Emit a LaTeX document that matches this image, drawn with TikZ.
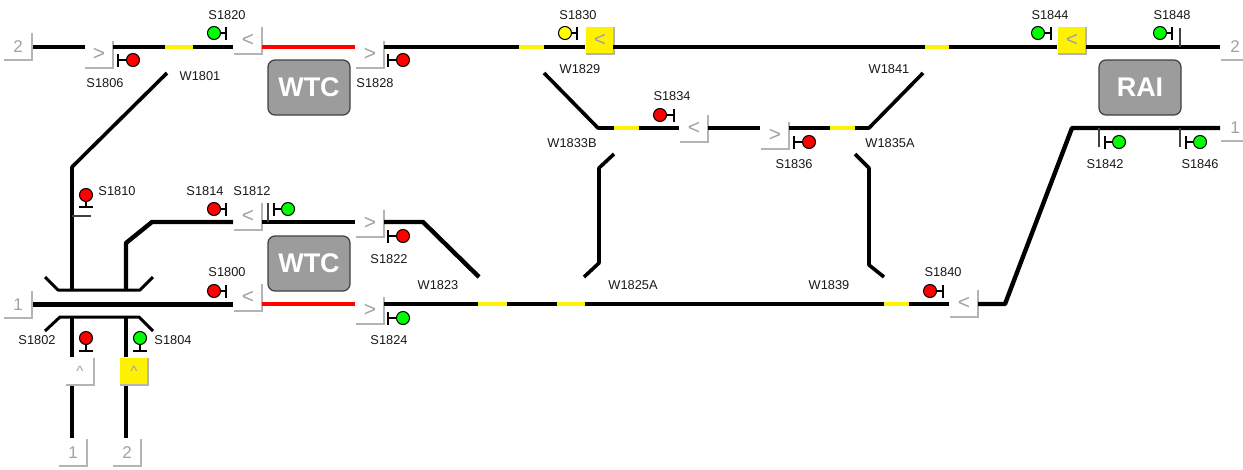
\documentclass[tikz,border=0pt]{standalone}
\usepackage{fontspec}
\setmainfont{Liberation Sans}
\definecolor{sigred}{HTML}{FF0000}
\definecolor{siggreen}{HTML}{00FF00}
\definecolor{sigyellow}{HTML}{FFFF00}
\definecolor{boxgrey}{HTML}{9C9C9C}
\definecolor{bevel}{HTML}{B4B4B4}
\definecolor{glyph}{HTML}{A0A0A8}
\tikzset{
  track/.style={line width=4.4pt,black,line cap=butt,line join=round},
  busy/.style={line width=4.4pt,red,line cap=butt},
  occ/.style={line width=4.4pt,yellow,line cap=butt},
  thintrack/.style={line width=3pt,black,line join=round},
  fine/.style={line width=1.1pt,black!75},
  bevelline/.style={line width=2pt,bevel},
  btnbox/.style={minimum width=28pt,minimum height=27pt,inner sep=0pt,outer sep=0pt,text=glyph},
  lamp/.style={circle,draw=black,line width=1pt,minimum size=13pt,inner sep=0pt,outer sep=0pt},
  sigpost/.style={line width=1.6pt,black},
  lbl/.style={font=\fontsize{12.8}{14}\selectfont,text=black!90,inner sep=0pt},
  station/.style={draw=black!75,line width=1.2pt,fill=boxgrey,rounded corners=7pt,minimum width=82pt,minimum height=55pt,inner sep=0pt,text=white,font=\bfseries\fontsize{27}{30}\selectfont},
}
% #1 name, #2 left, #3 top, #4 glyph, #5 fill
\newcommand{\btn}[5]{%
  \node[btnbox,fill=#5] (#1) at (#2+14,#3+13.5) {#4};
  \draw[bevelline] (#1.north east) -- (#1.south east) -- (#1.south west);
}
\newcommand{\chevron}[1]{\fontsize{21}{21}\selectfont\raisebox{-1pt}{#1}}
\newcommand{\numb}[1]{\fontsize{17}{17}\selectfont #1}
\newcommand{\caretmark}{\fontsize{15}{15}\selectfont\raisebox{0pt}{\^{}}}
% horizontal signal: #1 name, #2 x, #3 y, #4 colour, #5 bar x
\newcommand{\sigh}[5]{%
  \node[lamp,fill=#4] (#1) at (#2,#3) {};
  \coordinate (#1b) at (#5,#3);
  \draw[sigpost] (#1) -- (#1b);
  \draw[sigpost] ([yshift=-6.5pt]#1b) -- ([yshift=6.5pt]#1b);
}
% vertical signal: #1 name, #2 x, #3 y, #4 colour, #5 bar y
\newcommand{\sigv}[5]{%
  \node[lamp,fill=#4] (#1) at (#2,#3) {};
  \coordinate (#1b) at (#2,#5);
  \draw[sigpost] (#1) -- (#1b);
  \draw[sigpost] ([xshift=-7pt]#1b) -- ([xshift=7pt]#1b);
}
\begin{document}
\begin{tikzpicture}[x=1pt,y=-1pt]
\useasboundingbox[fill=white] (0,0) rectangle (1243,469);

% buttons
\btn{bTL}{4}{33}{\numb{2}}{white}
\btn{bA}{85}{41}{\chevron{>}}{white}
\btn{bB}{234}{27}{\chevron{<}}{white}
\btn{bC}{356}{41}{\chevron{>}}{white}
\btn{bD}{586}{27}{\chevron{<}}{yellow}
\btn{bE}{1058}{27}{\chevron{<}}{yellow}
\btn{bTR}{1221}{33}{\numb{2}}{white}
\btn{bMR}{1221}{114}{\numb{1}}{white}
\btn{bF}{680}{115}{\chevron{<}}{white}
\btn{bG}{761}{122}{\chevron{>}}{white}
\btn{bH}{234}{203}{\chevron{<}}{white}
\btn{bI}{356}{210}{\chevron{>}}{white}
\btn{bML}{4}{291}{\numb{1}}{white}
\btn{bJ}{234}{284}{\chevron{<}}{white}
\btn{bK}{356}{297}{\chevron{>}}{white}
\btn{bL}{950}{290}{\chevron{<}}{white}
\btn{bM}{66}{358}{\caretmark}{white}
\btn{bN}{120}{358}{\caretmark}{yellow}
\btn{bO}{59}{439}{\numb{1}}{white}
\btn{bP}{113}{439}{\numb{2}}{white}

% top line
\coordinate (t1) at (33,47);   \coordinate (t2) at (85,47);
\coordinate (t3) at (113,47);  \coordinate (t4) at (165,47);
\coordinate (t5) at (193,47);  \coordinate (t6) at (233,47);
\coordinate (t7) at (262,47);  \coordinate (t8) at (355,47);
\coordinate (t9) at (384,47);  \coordinate (t10) at (519,47);
\coordinate (t11) at (544,47); \coordinate (t12) at (585,47);
\coordinate (t13) at (613,47); \coordinate (t14) at (925,47);
\coordinate (t15) at (949,47); \coordinate (t16) at (1057,47);
\coordinate (t17) at (1086,47);\coordinate (t18) at (1220,47);
\draw[track] (t1) -- (t2);
\draw[track] (t3) -- (t4);
\draw[occ] (t4) -- (t5);
\draw[track] (t5) -- (t6);
\draw[busy] (t7) -- (t8);
\draw[track] (t9) -- (t10);
\draw[occ] (t10) -- (t11);
\draw[track] (t11) -- (t12);
\draw[track] (t13) -- (t14);
\draw[occ] (t14) -- (t15);
\draw[track] (t15) -- (t16);
\draw[track] (t17) -- (t18);

% middle line
\coordinate (m0) at (544,73);  \coordinate (m1) at (598,128);
\coordinate (m2) at (614,128); \coordinate (m3) at (639,128);
\coordinate (m4) at (679,128); \coordinate (m5) at (708,128);
\coordinate (m6) at (760,128); \coordinate (m7) at (789,128);
\coordinate (m8) at (830,128); \coordinate (m9) at (855,128);
\coordinate (m10) at (869,128);\coordinate (m11) at (923,73);
\draw[track,line width=3.6pt] (m0) -- (m1) -- (m2);
\draw[occ] (m2) -- (m3);
\draw[track] (m3) -- (m4);
\draw[track] (m5) -- (m6);
\draw[track] (m7) -- (m8);
\draw[occ] (m8) -- (m9);
\draw[track,line width=3.6pt] (m9) -- (m10) -- (m11);

% crossovers
\coordinate (c1) at (614,154); \coordinate (c2) at (599,168);
\coordinate (c3) at (599,263); \coordinate (c4) at (584,277);
\draw[track,line width=3.6pt] (c1) -- (c2) -- (c3) -- (c4);
\coordinate (d1) at (855,154); \coordinate (d2) at (869,168);
\coordinate (d3) at (869,265); \coordinate (d4) at (884,277);
\draw[track,line width=3.6pt] (d1) -- (d2) -- (d3) -- (d4);

% upper-left branch
\coordinate (w1) at (167,73);  \coordinate (w2) at (72,167);
\coordinate (w3) at (72,290);
\draw[track,line width=3.6pt] (w1) -- (w2) -- (w3);
\coordinate (k1) at (233,222); \coordinate (k2) at (152,222);
\coordinate (k3) at (126,243); \coordinate (k4) at (126,290);
\draw[track] (k1) -- (k2) -- (k3) -- (k4);
\coordinate (k5) at (262,222); \coordinate (k6) at (355,222);
\draw[track] (k5) -- (k6);
\coordinate (k7) at (384,222); \coordinate (k8) at (423,222);
\coordinate (k9) at (479,277);
\draw[track] (k7) -- (k8) -- (k9);

% throat bars
\coordinate (u1) at (45,277);  \coordinate (u2) at (58,290);
\coordinate (u3) at (140,290); \coordinate (u4) at (153,277);
\draw[thintrack] (u1) -- (u2) -- (u3) -- (u4);
\coordinate (l1) at (45,331);  \coordinate (l2) at (60,317);
\coordinate (l3) at (139,317); \coordinate (l4) at (153,331);
\draw[thintrack] (l1) -- (l2) -- (l3) -- (l4);

% lower-left tracks
\coordinate (v1) at (72,317);  \coordinate (v2) at (72,357);
\coordinate (v3) at (72,386);  \coordinate (v4) at (72,438);
\coordinate (v5) at (126,317); \coordinate (v6) at (126,357);
\coordinate (v7) at (126,386); \coordinate (v8) at (126,438);
\draw[track] (v1) -- (v2);
\draw[track] (v3) -- (v4);
\draw[track] (v5) -- (v6);
\draw[track] (v7) -- (v8);

% main lower line
\coordinate (b1) at (33,304);   \coordinate (b2) at (233,304);
\coordinate (b3) at (262,304);  \coordinate (b4) at (355,304);
\coordinate (b5) at (384,304);  \coordinate (b6) at (478,304);
\coordinate (b7) at (507,304);  \coordinate (b8) at (557,304);
\coordinate (b9) at (585,304);  \coordinate (b10) at (884,304);
\coordinate (b11) at (909,304); \coordinate (b12) at (949,304);
\coordinate (b13) at (978,304); \coordinate (b14) at (1005,304);
\coordinate (b15) at (1072,128);\coordinate (b16) at (1220,128);
\draw[track,line width=5pt] (b1) -- (b2);
\draw[busy] (b3) -- (b4);
\draw[track] (b5) -- (b6);
\draw[occ] (b6) -- (b7);
\draw[track] (b7) -- (b8);
\draw[occ] (b8) -- (b9);
\draw[track] (b9) -- (b10);
\draw[occ] (b10) -- (b11);
\draw[track] (b11) -- (b12);
\draw[track] (b13) -- (b14) -- (b15) -- (b16);

% signals
\sigh{s1820}{214}{33}{siggreen}{226}
\sigh{s1806}{133}{60}{sigred}{118}
\sigh{s1828}{403}{60}{sigred}{388}
\sigh{s1814}{214}{209}{sigred}{226}
\sigh{s1812}{288}{209}{siggreen}{274}
\sigh{s1800}{214}{291}{sigred}{226}
\sigh{s1822}{403}{236}{sigred}{388}
\sigh{s1824}{403}{318}{siggreen}{388}
\sigh{s1830}{565}{33}{sigyellow}{577}
\sigh{s1834}{660}{115}{sigred}{674}
\sigh{s1836}{809}{142}{sigred}{794}
\sigh{s1844}{1038}{33}{siggreen}{1051}
\sigh{s1848}{1160}{33}{siggreen}{1172}
\sigh{s1842}{1119}{142}{siggreen}{1105}
\sigh{s1846}{1200}{142}{siggreen}{1186}
\sigh{s1840}{930}{291}{sigred}{943}
\sigv{s1810}{86}{195}{sigred}{207}
\sigv{s1802}{86}{338}{sigred}{351}
\sigv{s1804}{140}{338}{siggreen}{351}

% fine stubs
\coordinate (f1) at (268,203); \coordinate (f2) at (268,222);
\coordinate (f3) at (1180,28); \coordinate (f4) at (1180,47);
\coordinate (f5) at (1099,128);\coordinate (f6) at (1099,147);
\coordinate (f7) at (1180,128);\coordinate (f8) at (1180,147);
\coordinate (f9) at (72,216);  \coordinate (f10) at (91,216);
\draw[fine] (f1) -- (f2);
\draw[fine] (f3) -- (f4);
\draw[fine] (f5) -- (f6);
\draw[fine] (f7) -- (f8);
\draw[fine] (f9) -- (f10);

% stations
\node[station] (wtcA) at (309,87.5) {WTC};
\node[station] (wtcB) at (309,263.5) {WTC};
\node[station] (rai) at (1140,87.5) {RAI};

% labels
\node[lbl] (n1) at (227,15) {S1820};
\node[lbl] (n2) at (105,83) {S1806};
\node[lbl] (n3) at (200,76) {W1801};
\node[lbl] (n4) at (375,83) {S1828};
\node[lbl] (n5) at (117,191) {S1810};
\node[lbl] (n6) at (205,191) {S1814};
\node[lbl] (n7) at (252,191) {S1812};
\node[lbl] (n8) at (227,272) {S1800};
\node[lbl] (n9) at (389,259) {S1822};
\node[lbl] (n10) at (389,340) {S1824};
\node[lbl] (n11) at (37,340) {S1802};
\node[lbl] (n12) at (173,340) {S1804};
\node[lbl] (n13) at (438,285) {W1823};
\node[lbl] (n14) at (578,15) {S1830};
\node[lbl] (n15) at (580,69) {W1829};
\node[lbl] (n16) at (672,96) {S1834};
\node[lbl] (n17) at (572,143) {W1833B};
\node[lbl] (n18) at (794,164) {S1836};
\node[lbl] (n19) at (890,143) {W1835A};
\node[lbl] (n20) at (889,69) {W1841};
\node[lbl] (n21) at (633,285) {W1825A};
\node[lbl] (n22) at (829,285) {W1839};
\node[lbl] (n23) at (943,272) {S1840};
\node[lbl] (n24) at (1050,15) {S1844};
\node[lbl] (n25) at (1172,15) {S1848};
\node[lbl] (n26) at (1105,164) {S1842};
\node[lbl] (n27) at (1200,164) {S1846};
\end{tikzpicture}
\end{document}
